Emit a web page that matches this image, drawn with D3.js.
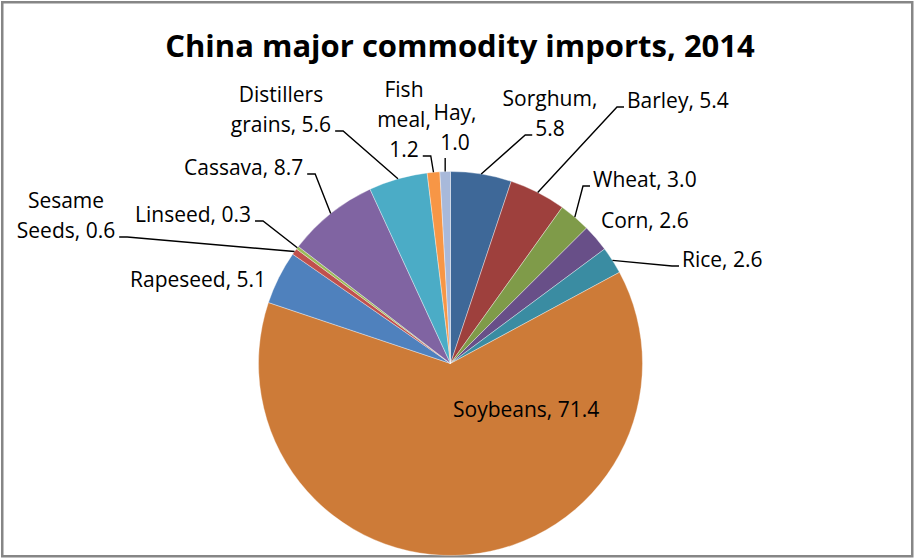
<!DOCTYPE html>
<html>
<head>
<meta charset="utf-8">
<script src="https://cdn.jsdelivr.net/npm/d3@7"></script>
<style>
  body { margin: 0; background: #fff; }
  svg text { font-family: "Open Sans", sans-serif; fill: #000; }
</style>
</head>
<body>
<svg id="chart" width="915" height="559"></svg>
<script>
// data, clockwise from 12 o'clock
var CATEGORIES = ["Sorghum", "Barley", "Wheat", "Corn", "Rice", "Soybeans", "Rapeseed",
  "Sesame Seeds", "Linseed", "Cassava", "Distillers grains", "Fish meal", "Hay"];
var VALUES = [5.8, 5.4, 3.0, 2.6, 2.6, 71.4, 5.1, 0.6, 0.3, 8.7, 5.6, 1.2, 1.0];
var TITLE = "China major commodity imports, 2014";

// styles
var COLORS = ["#3e6898", "#9e403d", "#7f9b49", "#684f88", "#3a8ca2", "#cd7b38", "#4f81bd",
  "#c0504d", "#9bbb59", "#8064a2", "#4bacc6", "#f79646", "#a8b9da"];

// label layout: x, baseline of first line, anchor, wrap width, leader side
// side: "r" label right of pie point, "l" label left, "v" vertical, null none
var LABELS = [
  {x: 550, y: 106, anchor: "middle", wrap: 100, side: "r"},
  {x: 627, y: 108, anchor: "start", wrap: 300, side: "r"},
  {x: 593, y: 187, anchor: "start", wrap: 300, side: "r"},
  {x: 601, y: 228, anchor: "start", wrap: 300, side: null},
  {x: 682, y: 267, anchor: "start", wrap: 300, side: "r"},
  {x: 453, y: 417, anchor: "start", wrap: 300, side: null},
  {x: 130, y: 287, anchor: "start", wrap: 300, side: null},
  {x: 66, y: 208, anchor: "middle", wrap: 110, side: "l"},
  {x: 135, y: 222, anchor: "start", wrap: 300, side: "l"},
  {x: 184, y: 175, anchor: "start", wrap: 300, side: "l"},
  {x: 281, y: 102, anchor: "middle", wrap: 110, side: "l"},
  {x: 404, y: 97, anchor: "middle", wrap: 60, side: "l"},
  {x: 455, y: 120, anchor: "middle", wrap: 50, side: "v"}
];

document.addEventListener("DOMContentLoaded", function() {
  drawChart();
});

function drawChart() {
  var svg = d3.select("#chart");
  var cx = 450.5, cy = 363.5, radius = 192, lineH = 30;

  svg.append("rect")
    .attr("x", 2.25).attr("y", 2.25)
    .attr("width", 910).attr("height", 554)
    .attr("fill", "#fff")
    .attr("stroke", "#868686")
    .attr("stroke-width", 2.5);

  svg.append("text")
    .attr("x", 460).attr("y", 57)
    .attr("text-anchor", "middle")
    .style("font-size", "31px")
    .style("font-weight", "bold")
    .text(TITLE);

  var items = CATEGORIES.map(function(c, i) {
    return {name: c, value: VALUES[i], index: i};
  });

  var pie = d3.pie()
    .sort(null)
    .value(function(d) { return d.value; });

  var arc = d3.arc()
    .innerRadius(0)
    .outerRadius(radius);

  var g = svg.append("g")
    .attr("transform", "translate(" + cx + "," + cy + ")");

  var arcs = pie(items);

  g.selectAll(".slice")
    .data(arcs)
    .enter()
    .append("path")
    .attr("class", "slice")
    .attr("d", arc)
    .attr("fill", function(d) { return COLORS[d.data.index]; })
    .attr("stroke", "#fff")
    .attr("stroke-opacity", 0.6)
    .attr("stroke-width", 0.6);

  var labels = svg.append("g");
  var leaders = svg.append("g");

  arcs.forEach(function(d, i) {
    var lay = LABELS[i];
    var text = d.data.name + ", " + d3.format(".1f")(d.data.value);
    var words = text.split(" ");
    var t = labels.append("text")
      .attr("text-anchor", lay.anchor)
      .style("font-size", "21px");

    // wrap into lines
    var lines = [], cur = "";
    var probe = t.append("tspan");
    words.forEach(function(w) {
      var test = cur ? cur + " " + w : w;
      probe.text(test);
      if (cur && probe.node().getComputedTextLength() > lay.wrap) {
        lines.push(cur);
        cur = w;
      } else {
        cur = test;
      }
    });
    lines.push(cur);
    probe.remove();

    lines.forEach(function(l, k) {
      t.append("tspan")
        .attr("x", lay.x)
        .attr("y", lay.y + k * lineH)
        .text(l);
    });

    if (!lay.side) return;

    var mid = (d.startAngle + d.endAngle) / 2;
    var p0 = [cx + radius * Math.sin(mid), cy - radius * Math.cos(mid)];
    var last = t.selectAll("tspan").nodes().pop();
    var bb = last.getBBox();
    var ly = lay.y + (lines.length - 1) * lineH - 1;
    var pts;
    if (lay.side === "r") {
      var ex = bb.x - 3;
      pts = [p0, [ex - 7, ly], [ex, ly]];
    } else if (lay.side === "l") {
      var ex2 = bb.x + bb.width + 4;
      pts = [p0, [ex2 + 8, ly], [ex2, ly]];
    } else {
      pts = [p0, [p0[0], lay.y + (lines.length - 1) * lineH + 8]];
    }
    leaders.append("path")
      .attr("d", d3.line()(pts))
      .attr("fill", "none")
      .attr("stroke", "#000")
      .attr("stroke-width", 1.4);
  });
}
</script>
</body>
</html>
